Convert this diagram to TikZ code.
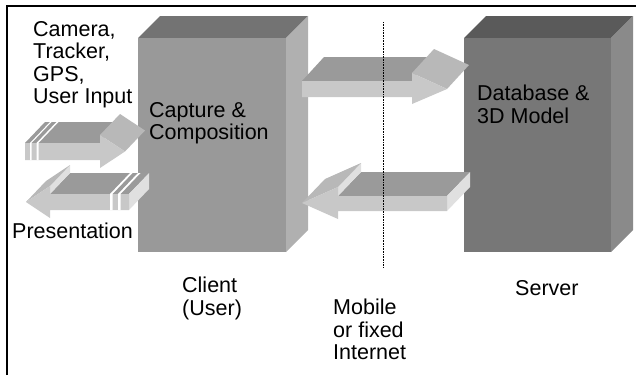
\documentclass[tikz,border=0pt]{standalone}
\usepackage{fontspec}
\setmainfont{Liberation Sans}
\definecolor{clientfront}{HTML}{999999}
\definecolor{clienttop}{HTML}{737373}
\definecolor{clientside}{HTML}{B0B0B0}
\definecolor{serverfront}{HTML}{777777}
\definecolor{servertop}{HTML}{5A5A5A}
\definecolor{serverside}{HTML}{8A8A8A}
\definecolor{arrowfront}{HTML}{C8C8C8}
\definecolor{arrowtop}{HTML}{9A9A9A}
\definecolor{arrowhead}{HTML}{B8B8B8}
\definecolor{arrowend}{HTML}{E0E0E0}
\tikzset{
  labeltext/.style={anchor=north west,inner sep=0pt,align=left,
    font=\fontsize{21.5}{22.5}\selectfont},
  face/.style={draw=none}
}
\begin{document}
\begin{tikzpicture}[x=1pt,y=-1pt]
  \useasboundingbox (0,0) rectangle (636,375);
  % frame
  \coordinate (framebot) at (7,375);
  \coordinate (framecorner) at (7,6);
  \coordinate (frameright) at (636,6);
  \draw[line width=2pt] (framebot) -- (framecorner) -- (frameright);
  % client box
  \fill[clienttop] (138,38) -- (160,16) -- (308,16) -- (286,38) -- cycle;
  \fill[clientside] (286,38) -- (308,16) -- (308,230) -- (286,252) -- cycle;
  \fill[clientfront] (138,38) rectangle (286,252);
  % server box
  \fill[servertop] (464,38) -- (486,16) -- (633,16) -- (611,38) -- cycle;
  \fill[serverside] (611,38) -- (633,16) -- (633,230) -- (611,252) -- cycle;
  \fill[serverfront] (464,38) rectangle (611,252);
  % upper arrow, client to server
  \fill[arrowtop] (302,81) -- (412,81) -- (434,57) -- (324,57) -- cycle;
  \fill[arrowhead] (412,73) -- (447,89) -- (469,65) -- (434,49) -- cycle;
  \fill[arrowfront] (302,81) -- (412,81) -- (412,73) -- (447,89) -- (412,104)
    -- (412,97) -- (302,97) -- cycle;
  % lower arrow, server to client
  \fill[arrowtop] (338,196) -- (447,196) -- (470,172) -- (361,172) -- cycle;
  \fill[arrowend] (338,187) -- (361,163) -- (361,172) -- (338,196) -- cycle;
  \fill[arrowhead] (302,203) -- (338,187) -- (361,163) -- (325,179) -- cycle;
  \fill[arrowend] (447,196) -- (470,172) -- (470,187) -- (447,211) -- cycle;
  \fill[arrowfront] (302,203) -- (338,187) -- (338,196) -- (447,196) -- (447,211)
    -- (338,211) -- (338,219) -- cycle;
  % input arrow
  \fill[arrowtop] (25,143) -- (100,143) -- (120,122) -- (45,122) -- cycle;
  \fill[arrowhead] (100,135) -- (125,151.5) -- (145,130.5) -- (120,114) -- cycle;
  \fill[arrowfront] (25,143) -- (100,143) -- (100,135) -- (125,151.5) -- (100,168)
    -- (100,160) -- (25,160) -- cycle;
  \foreach \xa/\xb in {30/31.5,36.5/38.5}
    \fill[white] (\xa,160) -- (\xa,143) -- (\xa+20,122) -- (\xb+20,122)
      -- (\xb,143) -- (\xb,160) -- cycle;
  % output arrow
  \fill[arrowtop] (50,194) -- (129,194) -- (149,173) -- (70,173) -- cycle;
  \fill[arrowend] (50,186) -- (70,165) -- (70,173) -- (50,194) -- cycle;
  \fill[arrowhead] (26,202) -- (50,186) -- (70,165) -- (46,181) -- cycle;
  \fill[arrowend] (129,194) -- (149,173) -- (149,189) -- (129,210) -- cycle;
  \fill[arrowfront] (26,202) -- (50,186) -- (50,194) -- (129,194) -- (129,210)
    -- (50,210) -- (50,218) -- cycle;
  \foreach \xa/\xb in {110/112.5,118/120.5}
    \fill[white] (\xa,210) -- (\xa,194) -- (\xa+20,173) -- (\xb+20,173)
      -- (\xb,194) -- (\xb,210) -- cycle;
  % network boundary
  \coordinate (nettop) at (383,22);
  \coordinate (netbot) at (383,267);
  \draw[line width=0.7pt,dash pattern=on 0.8pt off 0.8pt] (nettop) -- (netbot);
  % labels
  \node[labeltext] (sensors) at (33,21) {Camera,\\Tracker,\\GPS,\\User Input};
  \node[labeltext] (capture) at (149,102) {Capture \&\\Composition};
  \node[labeltext] (presentation) at (12,223) {Presentation};
  \node[labeltext] (client) at (182,277) {Client\\(User)};
  \node[labeltext] (database) at (477,85) {Database \&\\3D Model};
  \node[labeltext] (server) at (515,280) {Server};
  \node[labeltext] (network) at (333,299) {Mobile\\or fixed\\Internet};
\end{tikzpicture}
\end{document}
